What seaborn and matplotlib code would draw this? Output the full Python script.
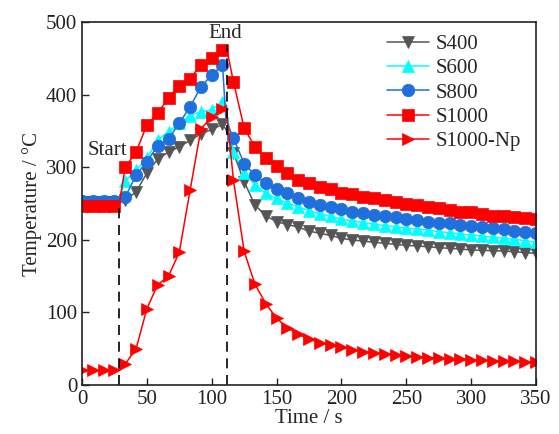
import numpy as np
import pandas as pd
import seaborn as sns
import matplotlib
matplotlib.use("Agg")
import matplotlib.pyplot as plt

# time grid (s); 28.5 and 111 are the heating start / end knees (no marker)
time_s = [0, 8.3, 16.7, 25, 28.5, 33.3, 41.7, 50, 58.3, 66.7, 75, 83.3, 91.7, 100,
          108.3, 111, 116.7, 125, 133.3, 141.7, 150, 158.3, 166.7, 175, 183.3, 191.7,
          200, 208.3, 216.7, 225, 233.3, 241.7, 250, 258.3, 266.7, 275, 283.3, 291.7,
          300, 308.3, 316.7, 325, 333.3, 341.7, 350]
no_marker_idx = [4, 15]

s400 = [252, 252, 252, 252, 252, 255, 266, 292, 311, 321, 328, 337, 346, 352,
        359, 352, 320, 280, 248, 233, 225, 221, 217.5, 212, 209, 206,
        202, 199.7, 198.3, 196.6, 195.2, 193.8, 192.4, 191.5, 190.5, 189.1, 188.3, 187.3,
        186, 185.5, 185, 184.6, 183.6, 182.3, 181.4]
s600 = [254, 254, 254, 254, 255, 281, 296, 312, 337.5, 349, 360.5, 371, 376.5, 379,
        390, 382, 321, 292, 276, 264, 257, 250.3, 245.6, 240, 236, 232.5,
        228.2, 226.3, 223.6, 221.8, 219.4, 218, 215.8, 214.5, 213.5, 211.2, 209.8, 208,
        206.6, 205.2, 203.4, 202, 200.7, 198.8, 196.6]
s800 = [253, 253, 253, 253, 253, 259, 289, 307.6, 329.6, 338.3, 361, 383, 411, 427,
        441, 365, 340, 305, 289, 278, 269.5, 264, 258, 252.5, 248, 245.6,
        242, 238.7, 236.5, 234.2, 232.8, 231, 228.2, 227.3, 225, 223.6, 222.7, 220.4,
        219, 217.2, 215.8, 214.5, 212.5, 211.2, 209]
s1000 = [247, 247, 247, 247, 247, 300, 321, 358, 374, 396, 412, 422, 441, 450,
         461, 468, 418, 354, 328, 312, 301, 292, 282, 278, 273, 269.5,
         265, 262.7, 259.4, 257, 254.8, 251.6, 249.3, 248, 245, 243.4, 241, 238.7,
         238, 235, 233, 232.5, 231, 229.6, 228]
s1000_np = [20, 20, 20, 20, 22, 29, 50, 105, 138, 150, 183, 268, 353, 369,
            380, 385, 283, 184, 139, 112, 92, 79, 70, 63, 58.5, 55,
            52, 48, 46, 43.7, 42.7, 41.3, 40, 39, 37.6, 36.8, 35.8, 35.4,
            34.4, 34, 33.5, 33.1, 32.5, 32.1, 31.5]

series_names = ["S400", "S600", "S800", "S1000", "S1000-Np"]
series_vals = [s400, s600, s800, s1000, s1000_np]
colors = ["#555555", "#00ffff", "#1f6fdc", "#ff0000", "#ff0000"]
markers = ["v", "^", "o", "s", ">"]
msizes = [9, 9, 9, 8, 9]

start_t, end_t = 28.5, 111.5

sns.set_style("ticks")
plt.rcParams["font.family"] = ["Liberation Serif", "DejaVu Serif"]
plt.rcParams["font.size"] = 15

fig = plt.figure(figsize=(5.59, 4.34), dpi=100)
ax = fig.add_axes([0.1467, 0.1129, 0.8122, 0.8364])

mark_idx = [i for i in range(len(time_s)) if i not in no_marker_idx]
for name, vals, c, m, ms in zip(series_names, series_vals, colors, markers, msizes):
    df = pd.DataFrame({"Time": time_s, "Temp": vals})
    sns.lineplot(data=df, x="Time", y="Temp", ax=ax, color=c, marker=m,
                 markersize=ms, markeredgecolor=c, markeredgewidth=0.5,
                 linewidth=1.1, markevery=mark_idx, label=name, sort=False)

ax.plot([start_t, start_t], [0, 250], color="black", linestyle=(0, (6, 4)), linewidth=1.2)
ax.plot([end_t, end_t], [0, 468], color="black", linestyle=(0, (6, 4)), linewidth=1.2)
ax.text(19.3, 323, "Start", ha="center", va="center", fontsize=15)
ax.text(110.5, 484, "End", ha="center", va="center", fontsize=15)

ax.set_xlim(0, 350)
ax.set_ylim(0, 500)
ax.set_xticks([0, 50, 100, 150, 200, 250, 300, 350])
ax.set_yticks([0, 100, 200, 300, 400, 500])
ax.tick_params(direction="in", length=5, width=1, labelsize=15, colors="#222222")
for sp in ax.spines.values():
    sp.set_linewidth(1.2)
    sp.set_color("#222222")
ax.set_xlabel("Time / s", fontsize=15, labelpad=0)
ax.set_ylabel("Temperature / °C", fontsize=15, labelpad=3)

ax.legend(loc="upper left", bbox_to_anchor=(0.672, 0.965), frameon=False,
          fontsize=15, handlelength=2.0, handletextpad=0.35, labelspacing=0.22,
          borderaxespad=0, borderpad=0)

fig.savefig("out.png", dpi=100)
